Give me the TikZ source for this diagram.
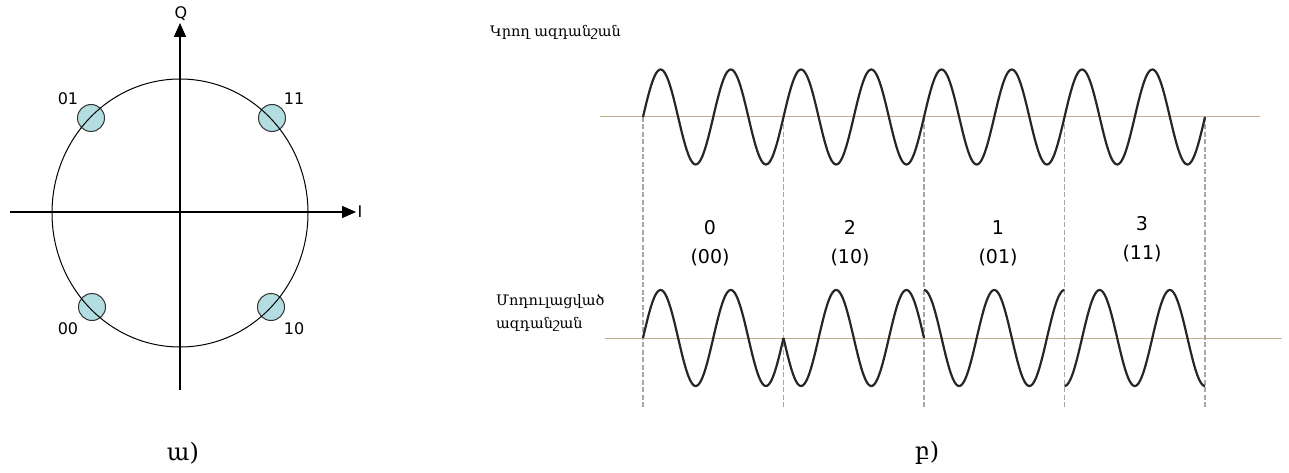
\documentclass[tikz,border=0pt]{standalone}
\usepackage{fontspec}
\setmainfont{DejaVu Serif}
\newfontfamily\labelfont{DejaVu Sans}
\usetikzlibrary{arrows.meta}
\definecolor{dotblue}{HTML}{B3DDE0}
\definecolor{zerotan}{HTML}{C4B08E}
\definecolor{wavegray}{HTML}{262626}
\begin{document}
\begin{tikzpicture}[x=1pt,y=-1pt,every node/.style={inner sep=0pt},
  axis/.style={line width=1.6pt,-{Triangle[length=14pt,width=12pt]}},
  dot/.style={draw=black!80,fill=dotblue,circle,minimum size=27pt,line width=1pt},
  bitlbl/.style={font=\labelfont\fontsize{16}{16}\selectfont},
  wave/.style={draw=wavegray,line width=2.2pt,line join=round},
  zero/.style={draw=zerotan,line width=1pt},
  slot/.style={draw=black!35,dash pattern=on 5pt off 2.5pt,line width=1.1pt},
  sym/.style={font=\labelfont\fontsize{19}{29}\selectfont,align=center},
  sigtxt/.style={font=\fontsize{14.5}{23}\selectfont,align=left,anchor=west},
  caption/.style={font=\fontsize{24}{24}\selectfont}]
\useasboundingbox (0,0) rectangle (1289,473);
% constellation
\coordinate (o) at (180,213);
\coordinate (qlo) at (180,390);
\coordinate (qhi) at (180,23);
\coordinate (ilo) at (10,212);
\coordinate (ihi) at (356,212);
\node[dot] (p01) at (91,118) {};
\node[dot] (p11) at (272,118) {};
\node[dot] (p00) at (92,307) {};
\node[dot] (p10) at (271,307) {};
\draw[line width=1pt] (o) ellipse [x radius=128, y radius=134];
\draw[axis] (ilo) -- (ihi);
\draw[axis] (qlo) -- (qhi);
\node[bitlbl] (q) at (181,14) {Q};
\node[bitlbl] (i) at (360,212) {I};
\node[bitlbl] (l01) at (68,99) {01};
\node[bitlbl] (l11) at (294,99) {11};
\node[bitlbl] (l00) at (68,329) {00};
\node[bitlbl] (l10) at (294,329) {10};
\node[caption] (ca) at (183,453) {ա)};
% signals
\node[sigtxt] (carr) at (490,32) {Կրող ազդանշան};
\node[sigtxt] (modl) at (496,313) {Մոդուլացված\\ազդանշան};
\draw[zero] (600,117) -- (1260,117);
\draw[zero] (605,338) -- (1282,338);
\foreach \k in {0,...,4}
  \draw[slot] ({643+140.5*\k},117) -- ({643+140.5*\k},408);
\draw[wave] plot[domain=643:1205,samples=400] (\x,{117-47.5*sin((\x-643)*5.12456)});
\foreach \a/\ph in {643/0,783.5/180,924/90,1064.5/270}
  \draw[wave] plot[domain=\a:\a+140.5,samples=120] (\x,{338-48*sin((\x-\a)*5.12456+\ph)});
\node[sym] (s0) at (710,243) {0\\(00)};
\node[sym] (s2) at (850,243) {2\\(10)};
\node[sym] (s1) at (998,243) {1\\(01)};
\node[sym] (s3) at (1142,239) {3\\(11)};
\node[caption] (cb) at (927,453) {բ)};
\end{tikzpicture}
\end{document}
